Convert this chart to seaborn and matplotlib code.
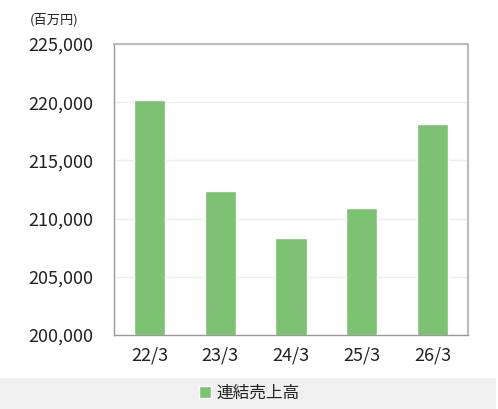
import pandas as pd
import matplotlib
matplotlib.use('Agg')
import matplotlib.pyplot as plt
import seaborn as sns
from matplotlib.patches import Rectangle
from matplotlib.ticker import FuncFormatter

periods = ['22/3', '23/3', '24/3', '25/3', '26/3']
sales = [220200, 212400, 208300, 210900, 218100]
series_name = '連結売上高'
unit_label = '(百万円)'

def main():
    sns.set_style('white')
    plt.rcParams['font.family'] = ['Noto Sans CJK JP', 'DejaVu Sans']

    df = pd.DataFrame({'period': periods, 'sales': sales})

    fig = plt.figure(figsize=(4.98, 4.09), dpi=100)
    ax = fig.add_axes([114/498, 74/409, 354/498, 291/409])

    sns.barplot(data=df, x='period', y='sales', color='#7dc173', width=0.44,
                saturation=1, label=series_name, ax=ax, zorder=3)

    ax.set_ylim(200000, 225000)
    ax.set_yticks(range(200000, 225001, 5000))
    ax.yaxis.set_major_formatter(FuncFormatter(lambda v, p: '{:,.0f}'.format(v)))
    ax.set_xlabel('')
    ax.set_ylabel('')
    ax.grid(axis='y', color='#eeeeee', linewidth=1, zorder=0)
    ax.set_axisbelow(True)

    for side in ['left', 'bottom']:
        ax.spines[side].set_color('#999999')
        ax.spines[side].set_linewidth(1)
    for side in ['top', 'right']:
        ax.spines[side].set_color('#bbbbbb')
        ax.spines[side].set_linewidth(1.5)

    ax.tick_params(axis='both', which='both', direction='out', length=5,
                   color='#999999', labelsize=13, labelcolor='#222222')
    ax.tick_params(axis='y', pad=10)
    ax.tick_params(axis='x', pad=8)
    # ticks between categories on x axis
    ax.set_xticks([i for i in range(len(periods))])
    ax.set_xticks([i - 0.5 for i in range(len(periods) + 1)], minor=True)
    ax.tick_params(axis='x', which='major', length=0)
    ax.tick_params(axis='x', which='minor', length=6, color='#999999')
    ax.set_xlim(-0.5, len(periods) - 0.5)
    if ax.get_legend():
        ax.get_legend().remove()

    fig.text(30/498, 1 - 20/409, unit_label, fontsize=9.5, color='#222222', va='center')

    # legend band
    fig.patches.append(Rectangle((0, 0), 496/498, 31/409, transform=fig.transFigure,
                                 facecolor='#f0f0f0', edgecolor='none', zorder=0))
    handles, labels = ax.get_legend_handles_labels()
    fig.legend(handles, labels, loc='center', bbox_to_anchor=(0.5, 16/409),
               frameon=False, fontsize=12, handlelength=0.75, handleheight=0.75,
               handletextpad=0.3, labelcolor='#222222')

    fig.savefig('out.png', dpi=100)

if __name__ == '__main__':
    main()
